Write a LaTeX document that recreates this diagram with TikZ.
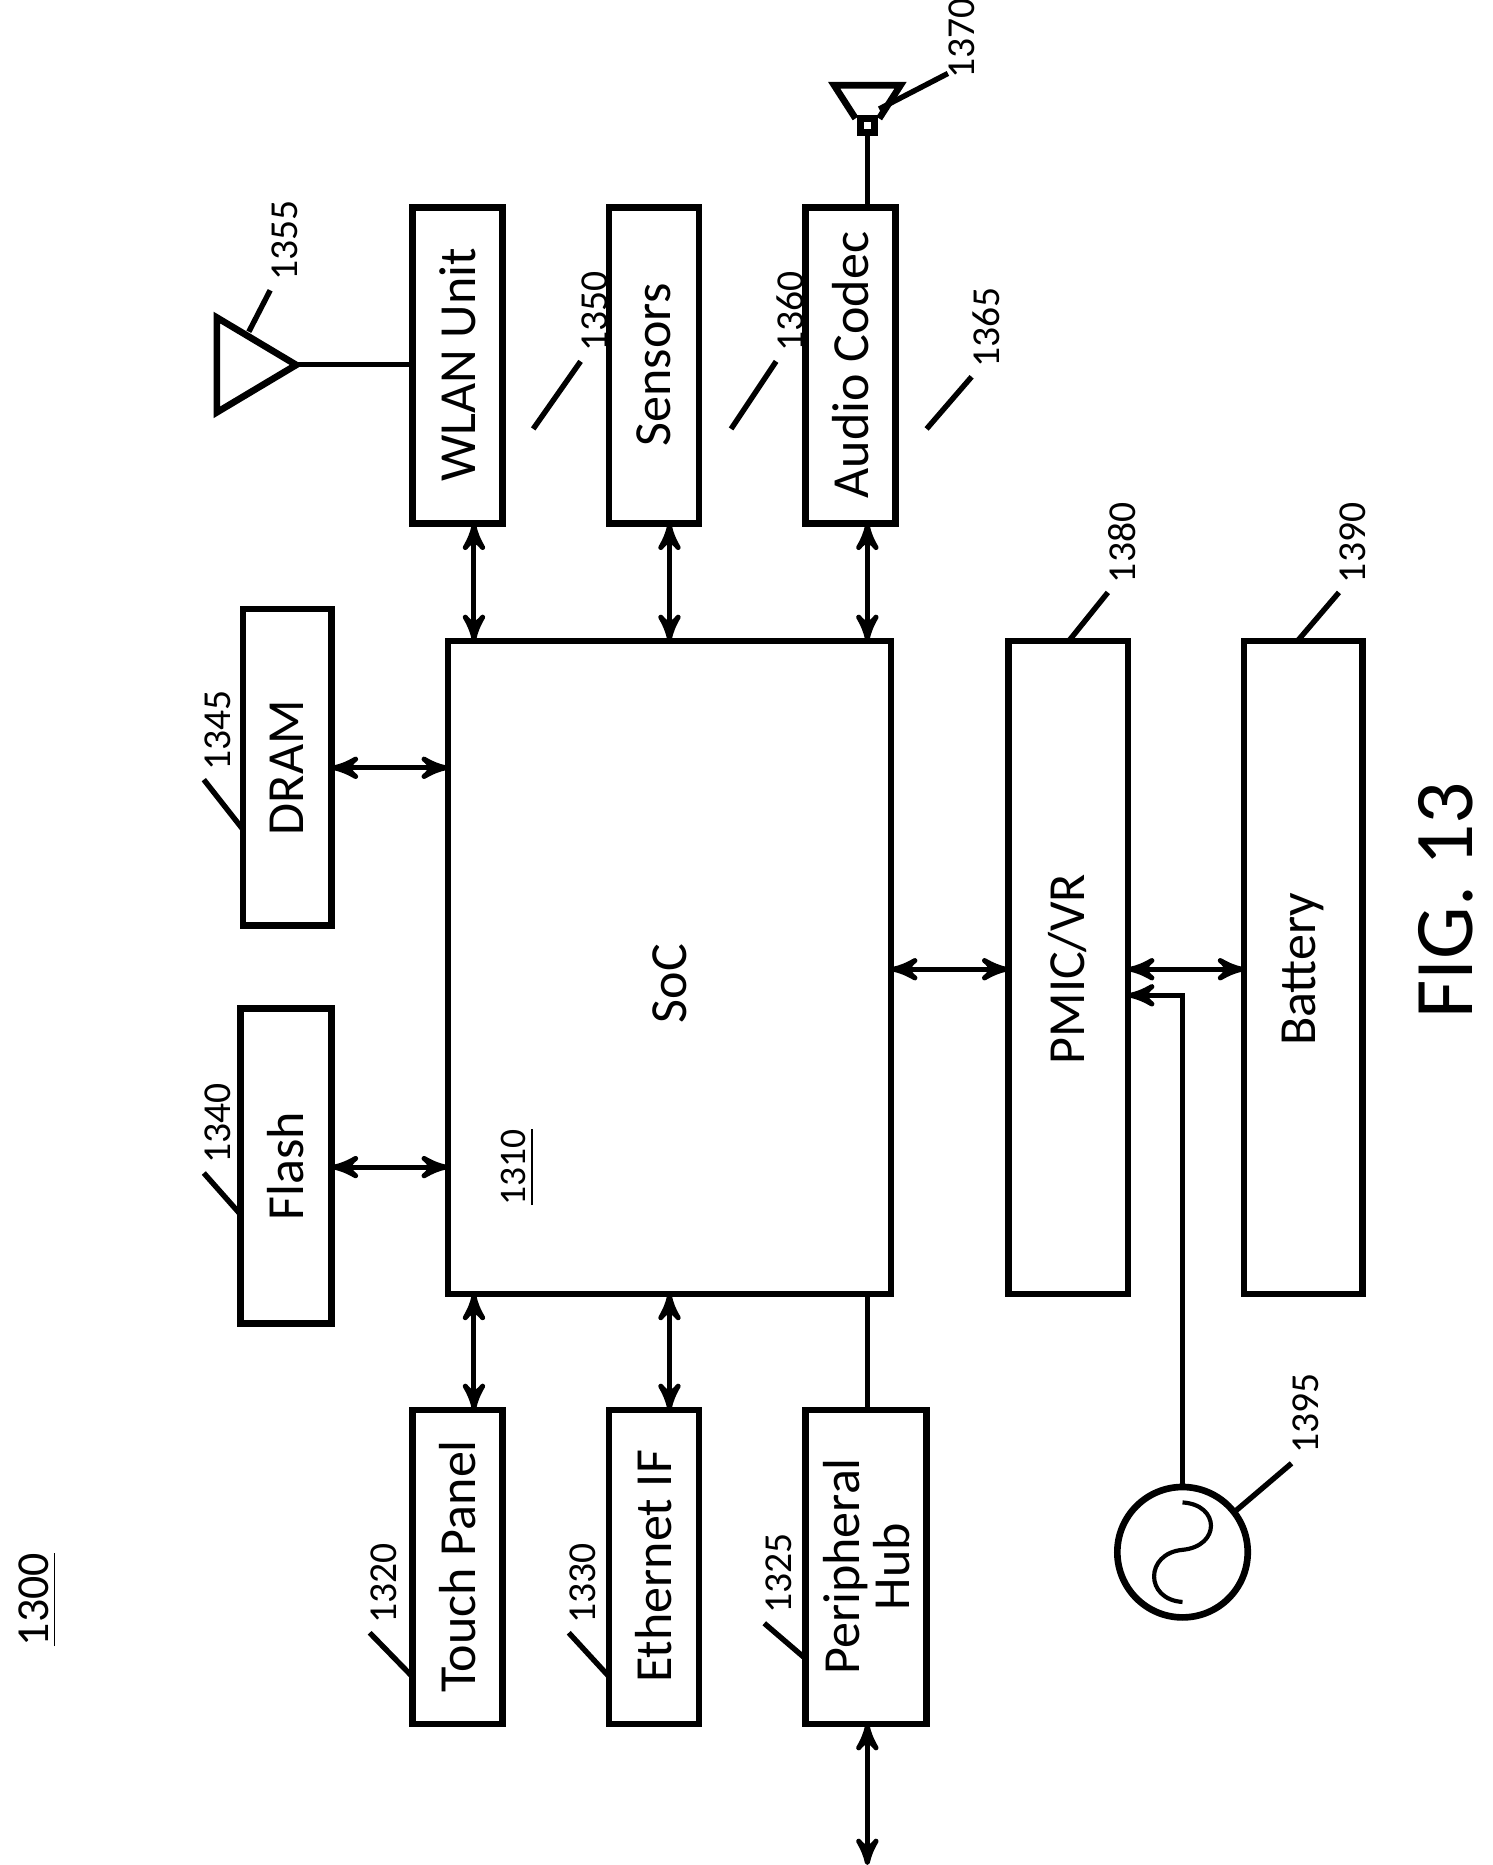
\documentclass[tikz,border=0pt]{standalone}
\usepackage{fontspec}
\setmainfont{Carlito}
\usetikzlibrary{arrows}
\begin{document}
\begin{tikzpicture}[x=0.01cm,y=-0.01cm,>=stealth',thick]
  \tikzstyle{blk}=[draw,line width=1.6pt,inner sep=0pt]
  \tikzstyle{lbl}=[rotate=90,font=\fontsize{12.5}{13}\selectfont,align=center]
  \tikzstyle{num}=[rotate=90,anchor=west,inner sep=1pt,xshift=0.03cm,yshift=-0.12cm,font=\fontsize{9.5}{10}\selectfont]
  \tikzstyle{bus}=[<->,line width=1.2pt]
  \tikzstyle{lead}=[line width=1.3pt]

  \useasboundingbox (0,0) rectangle (1260,1574);

  % blocks
  \draw[blk] (378,541) rectangle (752,1092);
  \node[lbl] (soc) at (565,830) {SoC};
  \node[rotate=90,font=\fontsize{9}{9}\selectfont] (n1310) at (437,985) {\underline{1310}};

  \draw[blk] (203,851) rectangle (280,1117);  \node[lbl] (flash) at (241,984) {Flash};
  \draw[blk] (205,514) rectangle (280,781);   \node[lbl] (dram) at (242,648) {DRAM};
  \draw[blk] (348,1190) rectangle (424,1455); \node[lbl] (touch) at (386,1322) {Touch Panel};
  \draw[blk] (514,1190) rectangle (590,1455); \node[lbl] (eth) at (552,1322) {Ethernet IF};
  \draw[blk] (680,1190) rectangle (782,1455); \node[lbl,font=\fontsize{12.5}{12}\selectfont] (hub) at (731,1322) {Peripheral\\Hub};
  \draw[blk] (348,175) rectangle (424,442);   \node[lbl] (wlan) at (386,308) {WLAN Unit};
  \draw[blk] (514,175) rectangle (590,442);   \node[lbl] (sens) at (552,308) {Sensors};
  \draw[blk] (680,175) rectangle (756,442);   \node[lbl] (audio) at (718,308) {Audio Codec};
  \draw[blk] (851,541) rectangle (952,1092);  \node[lbl] (pmic) at (901,818) {PMIC/VR};
  \draw[blk] (1050,541) rectangle (1150,1092); \node[lbl] (batt) at (1100,818) {Battery};

  % buses
  \draw[bus] (280,648) -- (378,648);
  \draw[bus] (280,985) -- (378,985);
  \draw[bus] (400,442) -- (400,541);
  \draw[bus] (565,442) -- (565,541);
  \draw[bus] (732,442) -- (732,541);
  \draw[bus] (400,1190) -- (400,1092);
  \draw[bus] (565,1190) -- (565,1092);
  \draw[line width=1.2pt] (732,1092) -- (732,1190);
  \draw[bus] (732,1455) -- (732,1574);
  \draw[bus] (752,818) -- (851,818);
  \draw[bus] (952,818) -- (1050,818);

  % ac source
  \node[draw,circle,line width=1.6pt,minimum size=1.1cm,inner sep=0pt] (src) at (998,1310) {};
  \draw[line width=1pt] (998,1268) .. controls (1030,1270) and (1030,1305) .. (998,1308)
    .. controls (966,1311) and (966,1350) .. (998,1352);
  \draw[->,line width=1.2pt] (src.north) |- (952,840);

  % antenna
  \draw[blk] (183,268) -- (183,348) -- (250,308) -- cycle;
  \draw[line width=1.2pt] (250,308) -- (348,308);

  % speaker
  \draw[line width=1.2pt] (732,175) -- (732,112);
  \draw[blk] (726,100) rectangle (738,112);
  \draw[blk] (722,100) -- (704,72) -- (760,72) -- (742,100);

  % reference numbers
  \node[rotate=90,font=\fontsize{11}{12}\selectfont] (n1300) at (32,1350) {\underline{1300}};
  \draw[lead] (348,1415) -- (312,1378); \node[num] (n1320) at (312,1378) {1320};
  \draw[lead] (514,1415) -- (480,1378); \node[num] (n1330) at (480,1378) {1330};
  \draw[lead] (680,1400) -- (645,1370); \node[num] (n1325) at (645,1370) {1325};
  \draw[lead] (203,1025) -- (172,990);  \node[num] (n1340) at (172,990) {1340};
  \draw[lead] (205,700) -- (172,658);   \node[num] (n1345) at (172,658) {1345};
  \draw[lead] (450,362) -- (490,305);   \node[num] (n1350) at (490,305) {1350};
  \draw[lead] (210,280) -- (228,245);   \node[num] (n1355) at (228,245) {1355};
  \draw[lead] (617,362) -- (655,305);   \node[num] (n1360) at (655,305) {1360};
  \draw[lead] (782,362) -- (820,318);   \node[num] (n1365) at (820,318) {1365};
  \draw[lead] (742,92) -- (800,62);     \node[num,xshift=-0.12cm] (n1370) at (800,62) {1370};
  \draw[lead] (902,541) -- (935,500);   \node[num] (n1380) at (935,500) {1380};
  \draw[lead] (1095,541) -- (1130,500); \node[num] (n1390) at (1130,500) {1390};
  \draw[lead] (1043,1275) -- (1090,1235); \node[num] (n1395) at (1090,1235) {1395};

  \node[rotate=90,font=\fontsize{20}{22}\selectfont] (fig) at (1220,760) {FIG. 13};
\end{tikzpicture}
\end{document}
